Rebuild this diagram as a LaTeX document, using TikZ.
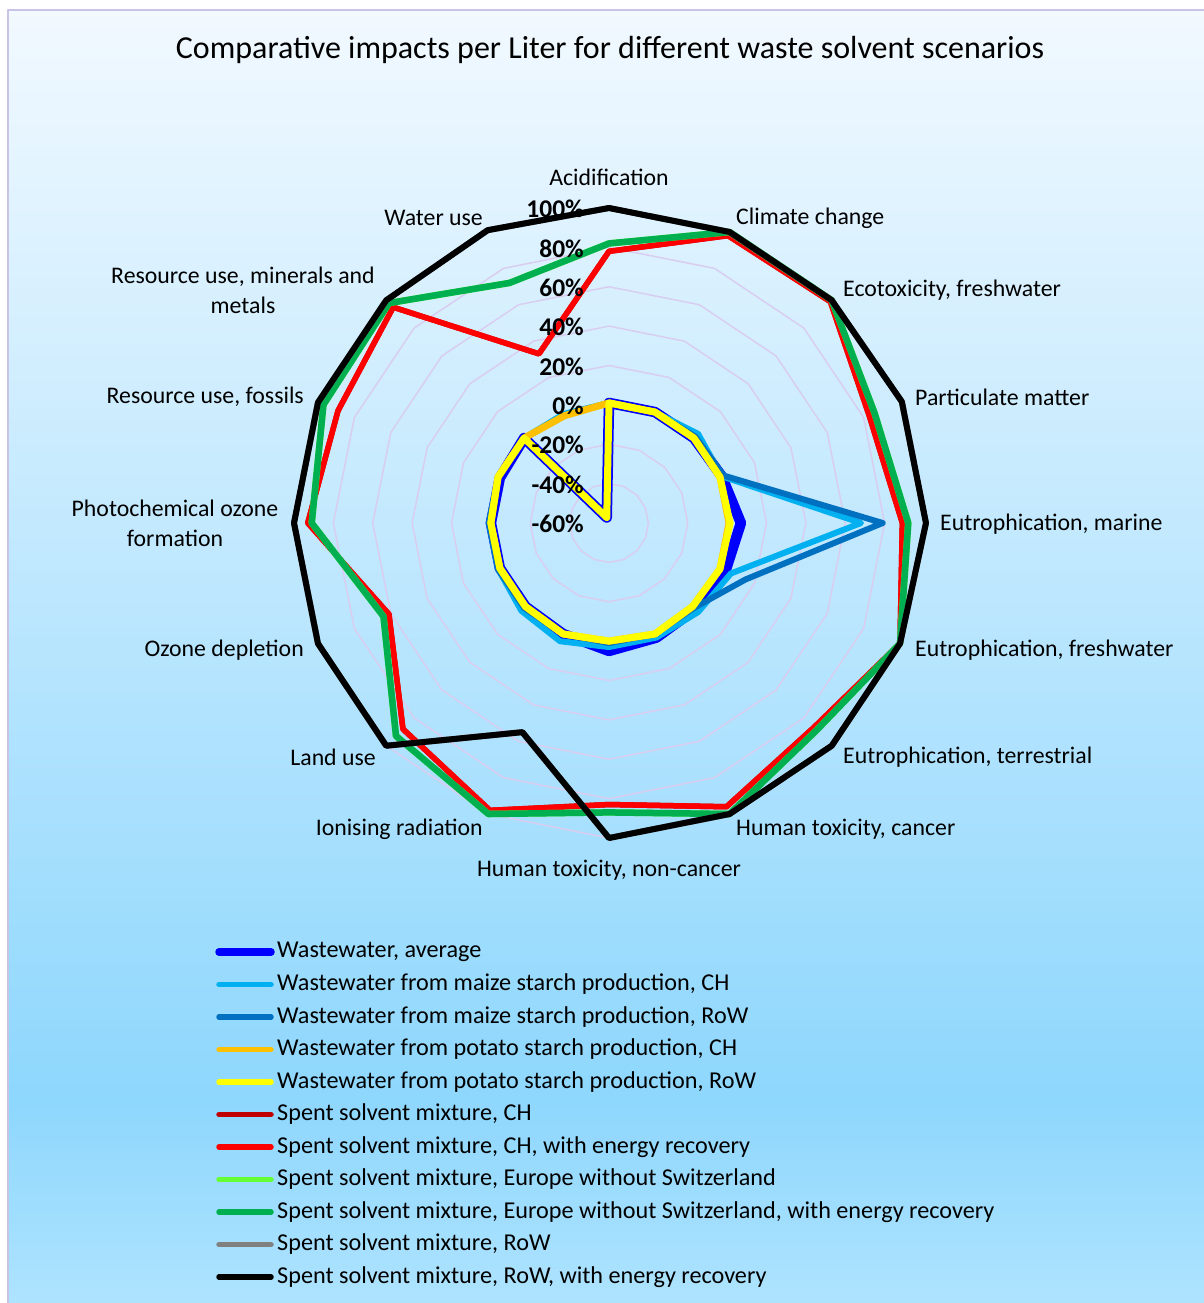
\documentclass[tikz,border=0pt]{standalone}
\usepackage{fontspec}
\setmainfont{Carlito}
\definecolor{bgtop}{HTML}{F2F9FF}
\definecolor{bgmid}{HTML}{8ED7FD}
\definecolor{bgbot}{HTML}{AEE3FE}
\definecolor{framecol}{HTML}{C9C3E6}
\definecolor{ringcol}{HTML}{D9CDF0}
\definecolor{cavg}{HTML}{0000FF}
\definecolor{cmch}{HTML}{00B0F0}
\definecolor{cmrow}{HTML}{0070C0}
\definecolor{cpch}{HTML}{FFC000}
\definecolor{cprow}{HTML}{FFFF00}
\definecolor{csch}{HTML}{C00000}
\definecolor{csche}{HTML}{FF0000}
\definecolor{cseu}{HTML}{66FF33}
\definecolor{cseue}{HTML}{00B050}
\definecolor{csrow}{HTML}{808080}
\definecolor{csrowe}{HTML}{000000}
\newcommand{\radarseries}[3]{%
  \foreach \v [count=\k from 0] in {#3}
    \coordinate (#1\k) at (-90+22.5*\k:{(\v+60)*1.96875});
  \draw[#2] (#10) \foreach \k in {1,...,15} {-- (#1\k)} -- cycle;
}

\begin{document}
\begin{tikzpicture}
  [x=1pt,y=-1pt,line join=round,
   gridring/.style={draw=ringcol,line width=1.5},
   axislabel/.style={inner sep=0,font=\fontsize{23.8}{30}\selectfont,align=center},
   pctlabel/.style={inner sep=0,anchor=east,font=\fontsize{25.5}{28}\selectfont\bfseries},
   legtext/.style={inner sep=0,anchor=west,font=\fontsize{24.2}{28}\selectfont},
   wwavg/.style={draw=cavg,line width=10.5},
   maizech/.style={draw=cmch,line width=6},
   maizerow/.style={draw=cmrow,line width=6},
   potatoch/.style={draw=cpch,line width=7},
   potatorow/.style={draw=cprow,line width=7},
   spentch/.style={draw=csch,line width=5.5},
   spentche/.style={draw=csche,line width=5.5},
   spenteu/.style={draw=cseu,line width=6.5},
   spenteue/.style={draw=cseue,line width=6.5},
   spentrow/.style={draw=csrow,line width=6},
   spentrowe/.style={draw=csrowe,line width=6}]
  \useasboundingbox[fill=white] (0,0) rectangle (1204,1303);
  \fill[top color=bgtop,bottom color=bgmid] (8,10) rectangle (1204,1100);
  \fill[top color=bgmid,bottom color=bgbot] (8,1100) rectangle (1204,1303);
  \draw[framecol,line width=2] (8,1303) -- (8,10) -- (1204,10);

  \node (title) at (610,50) {\fontsize{32}{36}\selectfont Comparative impacts per Liter for different waste solvent scenarios};

  \begin{scope}[shift={(609,523)}]
    \foreach \lv in {1,...,8}
      \draw[gridring] (-90:{\lv*39.375}) \foreach \k in {1,...,15} {-- (-90+22.5*\k:{\lv*39.375})} -- cycle;
    \radarseries{avg}{wwavg}{1,1,1,2,7,4,2,3,5,1,0,0,0,0,1,-57}
    \radarseries{mch}{maizech}{1,1,4,2,68,7,4,3,3,5,3,1,1,1,1,0}
    \radarseries{mrow}{maizerow}{1,1,2,3,79,15,1,1,1,1,1,1,1,1,1,-1}
    \radarseries{pch}{potatoch}{1,1,1,1,1,1,0,1,0,1,0,0,0,1,1,-1}
    \radarseries{prow}{potatorow}{1,1,1,1,1.5,1,0,1,0,1,0,0,0,1,1,-57}
    \radarseries{sch}{spentch}{78,98,99,83,89,100,87,96,83,98,88,61,93,89,95,33}
    \radarseries{sche}{spentche}{78,98,99,83,89,100,87,96,83,98,88,61,93,89,95,33}
    \radarseries{seu}{spenteu}{82,100,100,86,92,100,89,100,87,100,93,64,91,97,98,72}
    \radarseries{seue}{spenteue}{82,100,100,86,92,100,89,100,87,100,93,64,91,97,98,72}
    \radarseries{srow}{spentrow}{100,100,100,101,101,100,100,100,100,55,100,100,100,100,100,101}
    \radarseries{srowe}{spentrowe}{100,100,100,101,101,100,100,100,100,55,100,100,100,100,100,101}
  \end{scope}

  \foreach \p [count=\j from 0] in {-60,-40,...,100}
    \node[pctlabel] (pct\j) at (584,{524-39.375*\j}) {\p\%};

  \node[axislabel] (acid) at (609,177) {Acidification};
  \node[axislabel,anchor=west] (clim) at (736,218) {Climate change};
  \node[axislabel,anchor=west] (ecot) at (843,290) {Ecotoxicity, freshwater};
  \node[axislabel,anchor=west] (part) at (915,397) {Particulate matter};
  \node[axislabel,anchor=west] (eutm) at (940,524) {Eutrophication, marine};
  \node[axislabel,anchor=west] (eutf) at (915,650) {Eutrophication, freshwater};
  \node[axislabel,anchor=west] (eutt) at (843,757) {Eutrophication, terrestrial};
  \node[axislabel,anchor=west] (htc) at (736,829) {Human toxicity, cancer};
  \node[axislabel] (htnc) at (609,870) {Human toxicity, non-cancer};
  \node[axislabel,anchor=east] (ion) at (483,829) {Ionising radiation};
  \node[axislabel,anchor=east] (land) at (376,757) {Land use};
  \node[axislabel,anchor=east] (ozon) at (304,650) {Ozone depletion};
  \node[axislabel] (phot) at (175,523) {Photochemical ozone\\formation};
  \node[axislabel] (mine) at (243,290) {Resource use, minerals and\\metals};
  \node[axislabel,anchor=east] (foss) at (304,397) {Resource use, fossils};
  \node[axislabel,anchor=east] (watr) at (483,218) {Water use};

  \foreach \st/\lw/\txt [count=\i from 0] in {wwavg/7.5/{Wastewater, average},
      maizech/5.5/{Wastewater from maize starch production, CH},
      maizerow/5.5/{Wastewater from maize starch production, RoW},
      potatoch/5.5/{Wastewater from potato starch production, CH},
      potatorow/5.5/{Wastewater from potato starch production, RoW},
      spentch/5.5/{Spent solvent mixture, CH},
      spentche/5.5/{Spent solvent mixture, CH, with energy recovery},
      spenteu/5.5/{Spent solvent mixture, Europe without Switzerland},
      spenteue/5.5/{Spent solvent mixture, Europe without Switzerland, with energy recovery},
      spentrow/5.5/{Spent solvent mixture, RoW},
      spentrowe/5.5/{Spent solvent mixture, RoW, with energy recovery}}
  {
    \coordinate (la\i) at (219,{952+32.5*\i});
    \coordinate (lb\i) at (271,{952+32.5*\i});
    \draw[\st,line width=\lw,line cap=round] (la\i) -- (lb\i);
    \node[legtext] (leg\i) at (277,{952+32.5*\i}) {\txt};
  }
\end{tikzpicture}
\end{document}
